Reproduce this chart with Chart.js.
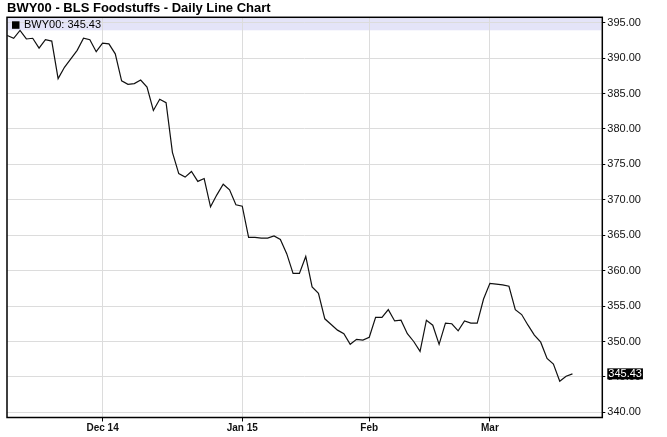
<!DOCTYPE html>
<html>
<head>
<meta charset="utf-8">
<script src="https://cdn.jsdelivr.net/npm/chart.js@4.4.1/dist/chart.umd.min.js"></script>
<style>
  html, body { margin: 0; padding: 0; background: #ffffff; }
  #wrap { width: 667px; height: 437px; position: relative; }
</style>
</head>
<body>
<div id="wrap"><canvas id="c" width="667" height="437"></canvas></div>
<script>
// ---- data ----
const chartTitle = 'BWY00 - BLS Foodstuffs - Daily Line Chart';
const seriesName = 'BWY00';

const dates = [
  '2014-11-07','2014-11-10','2014-11-11','2014-11-12','2014-11-13','2014-11-14','2014-11-17','2014-11-18','2014-11-19','2014-11-20',
  '2014-11-21','2014-11-24','2014-11-25','2014-11-26','2014-11-28',
  '2014-12-01','2014-12-02','2014-12-03','2014-12-04','2014-12-05','2014-12-08','2014-12-09','2014-12-10','2014-12-11','2014-12-12',
  '2014-12-15','2014-12-16','2014-12-17','2014-12-18','2014-12-19','2014-12-22','2014-12-23','2014-12-24','2014-12-26','2014-12-29',
  '2014-12-30','2014-12-31',
  '2015-01-02','2015-01-05','2015-01-06','2015-01-07','2015-01-08','2015-01-09','2015-01-12','2015-01-13','2015-01-14','2015-01-15',
  '2015-01-16','2015-01-20','2015-01-21','2015-01-22','2015-01-23','2015-01-26','2015-01-27','2015-01-28','2015-01-29','2015-01-30',
  '2015-02-02','2015-02-03','2015-02-04','2015-02-05','2015-02-06','2015-02-09','2015-02-10','2015-02-11','2015-02-12','2015-02-13',
  '2015-02-17','2015-02-18','2015-02-19','2015-02-20','2015-02-23','2015-02-24','2015-02-25','2015-02-26','2015-02-27',
  '2015-03-02','2015-03-03','2015-03-04','2015-03-05','2015-03-06','2015-03-09','2015-03-10','2015-03-11','2015-03-12','2015-03-13',
  '2015-03-16','2015-03-17','2015-03-18','2015-03-19'
];

const values = [
  393.2, 392.8, 393.9, 392.7, 392.8, 391.4, 392.6, 392.4, 387.1, 388.7,
  389.9, 391.1, 392.8, 392.6, 390.9,
  392.1, 392.0, 390.6, 386.8, 386.3, 386.4, 386.9, 385.9, 382.6, 384.2,
  383.7, 376.7, 373.7, 373.2, 374.0, 372.6, 373.0, 369.0, 370.7, 372.2,
  371.4, 369.3,
  369.1, 364.7, 364.7, 364.6, 364.6, 364.9, 364.4, 362.4, 359.6, 359.6,
  362.0, 357.7, 356.8, 353.2, 352.4, 351.6, 351.1, 349.6, 350.3, 350.2,
  350.6, 353.4, 353.4, 354.5, 352.9, 353.0, 351.1, 350.0, 348.6, 353.0,
  352.3, 349.6, 352.6, 352.5, 351.5, 352.9, 352.6, 352.6, 356.0,
  358.2, 358.1, 358.0, 357.8, 354.5, 353.8, 352.3, 350.9, 349.9, 347.6,
  346.8, 344.4, 345.1, 345.43
];

const monthTickLabels = ['Dec 14', 'Jan 15', 'Feb', 'Mar'];
const yTickValues = [340, 345, 350, 355, 360, 365, 370, 375, 380, 385, 390, 395];

// indices where a new month starts (derived from the dates list)
const monthStartIdx = [];
for (let i = 1; i < dates.length; i++) {
  if (dates[i].slice(0, 7) !== dates[i - 1].slice(0, 7)) monthStartIdx.push(i);
}

const points = values.map((v, i) => ({ x: i, y: v }));
const lastValue = values[values.length - 1];

const FONT = '"Liberation Sans", Arial, Helvetica, sans-serif';

const decorPlugin = {
  id: 'decor',
  beforeDraw(chart) {
    const { ctx, chartArea: a } = chart;
    ctx.save();
    ctx.fillStyle = '#ffffff';
    ctx.fillRect(0, 0, chart.width, chart.height);
    // legend band
    ctx.fillStyle = '#e4e4f8';
    ctx.fillRect(a.left, a.top + 1, a.right - a.left - 1, 12);
    ctx.restore();
  },
  afterDatasetsDraw(chart) {
    const { ctx, chartArea: a, scales } = chart;
    ctx.save();
    // frame
    ctx.strokeStyle = '#000000';
    ctx.lineWidth = 1.5;
    ctx.strokeRect(a.left, a.top, a.right - a.left, a.bottom - a.top);
    // legend
    ctx.fillStyle = '#000000';
    ctx.fillRect(a.left + 5, a.top + 4, 7.5, 7.5);
    ctx.font = '11px ' + FONT;
    ctx.textBaseline = 'middle';
    ctx.textAlign = 'left';
    ctx.fillText(seriesName + ': ' + lastValue.toFixed(2), a.left + 17, a.top + 8);
    // last value marker on the right axis
    const y = scales.y.getPixelForValue(lastValue);
    const txt = lastValue.toFixed(2);
    const w = ctx.measureText(txt).width;
    const bx = a.right + 5;
    ctx.fillStyle = '#000000';
    ctx.fillRect(bx, y - 5.5, w + 2, 11);
    ctx.fillStyle = '#ffffff';
    ctx.fillText(txt, bx + 1, y);
    ctx.restore();
  }
};

new Chart(document.getElementById('c'), {
  type: 'line',
  data: {
    datasets: [{
      label: seriesName,
      data: points,
      borderColor: '#111111',
      borderWidth: 1.2,
      pointRadius: 0,
      tension: 0,
      fill: false
    }]
  },
  options: {
    responsive: false,
    animation: false,
    devicePixelRatio: 1,
    layout: { padding: { left: 7, right: 0, top: 0, bottom: 0 } },
    plugins: {
      legend: { display: false },
      tooltip: { enabled: false },
      title: {
        display: true,
        text: chartTitle,
        align: 'start',
        color: '#000000',
        font: { family: FONT, size: 13, weight: 'bold', lineHeight: 1.2 },
        padding: { top: 1, bottom: 0.7 }
      }
    },
    scales: {
      x: {
        type: 'linear',
        min: -0.05,
        max: 93.7,
        afterBuildTicks(scale) {
          scale.ticks = monthStartIdx.map(v => ({ value: v }));
        },
        afterFit(scale) { scale.height = 19.5; },
        grid: { color: '#dcdcdc', lineWidth: 1, drawTicks: true, tickLength: 4, tickColor: '#000000' },
        border: { display: false },
        ticks: {
          autoSkip: false,
          maxRotation: 0,
          padding: 1,
          color: '#111111',
          font: { family: FONT, size: 10, weight: 'bold' },
          callback(value) {
            const k = monthStartIdx.indexOf(value);
            return k >= 0 ? monthTickLabels[k] : '';
          }
        }
      },
      y: {
        type: 'linear',
        position: 'right',
        min: 339.27,
        max: 395.76,
        afterBuildTicks(scale) {
          scale.ticks = yTickValues.map(v => ({ value: v }));
        },
        afterFit(scale) { scale.width = 64.7; },
        grid: { color: '#dcdcdc', lineWidth: 1, drawTicks: true, tickLength: 3, tickColor: '#000000' },
        border: { display: false },
        ticks: {
          padding: 2,
          color: '#111111',
          font: { family: FONT, size: 11 },
          callback(value) { return Number(value).toFixed(2); }
        }
      }
    }
  },
  plugins: [decorPlugin]
});
</script>
</body>
</html>
